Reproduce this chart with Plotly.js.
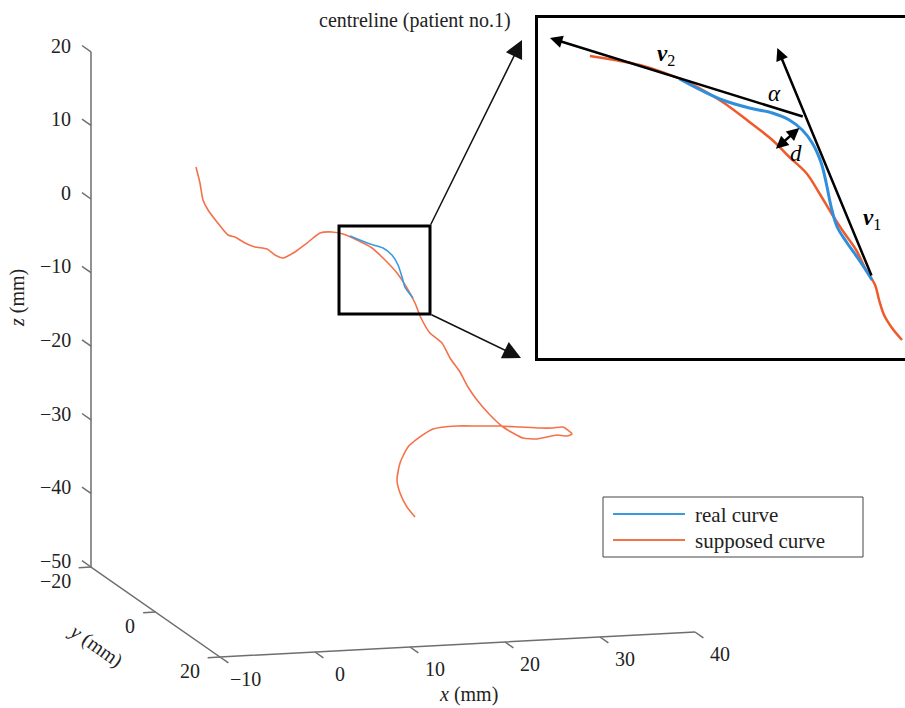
<!DOCTYPE html>
<html><head><meta charset="utf-8">
<script src="https://cdn.plot.ly/plotly-3.0.1.min.js"></script>
<style>html,body{margin:0;padding:0;background:#fff}#chart{width:905px;height:708px}</style>
</head><body><div id="chart"></div>
<script>
// ---- data (mm), centreline of patient no.1; depth y taken as the plane y = 0 ----
const supX = [-5.74,-5.32,-5.00,-4.47,-3.53,-2.37,-1.63,-0.58,0.47,1.74,2.58,3.42,4.68,5.95,7.32,8.58,9.74,11.21,12.79,14.16,15.42,16.47,17.32,17.95,18.89,20.16,21.00,22.05,22.89,23.84,25.21,26.58,27.63,28.68,30.16,31.21,32.26,33.32,33.84,32.89,31.84,30.47,28.37,26.26,24.16,21.74,19.21,17.84,16.58,15.74,15.42,15.74,16.47,17.32];
const supZ = [10.17,7.97,5.64,4.24,2.55,0.70,0.38,-0.50,-1.12,-1.48,-2.35,-2.81,-2.08,-0.95,0.32,0.37,0.02,-0.90,-2.09,-3.82,-5.67,-7.78,-9.87,-11.95,-14.06,-15.50,-17.60,-19.57,-21.66,-23.49,-25.63,-27.35,-28.24,-28.99,-29.22,-29.02,-28.82,-29.03,-28.79,-27.78,-27.84,-27.75,-27.47,-27.19,-27.05,-26.88,-27.12,-28.11,-29.39,-31.50,-33.79,-35.58,-37.53,-38.95];
const realX = [10.47,12.58,13.95,14.89,15.53,15.95,16.26,17.11];
const realZ = [-0.30,-1.53,-2.17,-3.19,-4.59,-6.25,-7.63,-9.18];
const planeY = 0;

const xTicks = [-10,0,10,20,30,40];
const yTicks = [-20,0,20];
const zTicks = [-50,-40,-30,-20,-10,0,10,20];
const xRange = [-10,40], yRange = [-20,20], zRange = [-50,20];

// ---- inset detail (local zoomed units) ----
const insSupU = [52,77,102,127,152,185,212,235,252,269,282,294,305,319,329,338,342,347,355,365];
const insSupV = [302,298,293,285,275,256,236,218,201,185,165,145,128,108,88,73,58,43,30,18];
const insRealU = [142,165,185,212,235,252,265,275,284,289,294,300,310,322,335];
const insRealV = [279,267,258,250,245,238,228,215,195,175,151,131,115,98,78];

const seriesNames = ['real curve','supposed curve'];
const BLUE = '#3a9ae0', ORANGE = '#f4724a';
const FONT = '"Liberation Serif", "Times New Roman", Times, serif';

// ---- orthographic projection of the 3-D box onto the page ----
function P(x,y,z){
  return [91 + (x+10)*9.5 + (y+20)*3.225,
          567 - (z+50)*7.36 - (x+10)*0.5 + (y+20)*2.25];
}
function proj(xs,zs){
  const X=[],Y=[];
  xs.forEach((x,i)=>{const p=P(x,planeY,zs[i]);X.push(p[0]);Y.push(p[1]);});
  return {X,Y};
}
const sup = proj(supX,supZ), real = proj(realX,realZ);

// axis lines
const A = [P(xRange[0],yRange[0],zRange[1]),P(xRange[0],yRange[0],zRange[0]),P(xRange[0],yRange[1],zRange[0]),P(xRange[1],yRange[1],zRange[0])];
// ticks
const tX=[],tY=[],ann=[];
function lab(v){return v<0?'\u2212'+Math.abs(v):String(v);}
zTicks.forEach(z=>{const a=P(-10,-20,z),b=P(-10,-22.8,z);tX.push(a[0],b[0],null);tY.push(a[1],b[1],null);
  ann.push({x:b[0]-9,y:b[1],text:lab(z),xanchor:'right',yanchor:'middle'});});
yTicks.forEach(y=>{const a=P(-10,y,-50),b=P(-11.3,y,-50);tX.push(a[0],b[0],null);tY.push(a[1],b[1],null);
  ann.push({x:b[0]-6,y:b[1]+13,text:lab(y),xanchor:'right',yanchor:'middle'});});
xTicks.forEach(x=>{const a=P(x,20,-50),b=P(x,22.6,-50);tX.push(a[0],b[0],null);tY.push(a[1],b[1],null);
  ann.push({x:b[0]+17,y:b[1]+16,text:lab(x),xanchor:'center',yanchor:'middle'});});
ann.forEach(a=>{a.xref='x';a.yref='y';a.showarrow=false;a.font={family:FONT,size:20,color:'#222'};});

// axis titles and chart title
ann.push({x:17,y:298,xref:'x',yref:'y',text:'<i>z</i> (mm)',textangle:-90,showarrow:false,font:{family:FONT,size:20,color:'#222'}});
ann.push({x:96,y:645,xref:'x',yref:'y',text:'<i>y</i> (mm)',textangle:35,showarrow:false,font:{family:FONT,size:20,color:'#222'}});
ann.push({x:468,y:694,xref:'x',yref:'y',text:'<i>x</i> (mm)',showarrow:false,font:{family:FONT,size:20,color:'#222'}});
ann.push({x:415,y:20,xref:'x',yref:'y',text:'centreline (patient no.1)',showarrow:false,font:{family:FONT,size:20,color:'#222'}});

// zoom box and pointer arrows
const box = {x0:339,x1:430,y0:226,y1:314};
ann.push({x:522,y:40,ax:box.x1,ay:box.y0,xref:'x',yref:'y',axref:'x',ayref:'y',text:'',showarrow:true,arrowhead:2,arrowsize:2.4,arrowwidth:1.5,arrowcolor:'#111'});
ann.push({x:521,y:358,ax:box.x1,ay:box.y1,xref:'x',yref:'y',axref:'x',ayref:'y',text:'',showarrow:true,arrowhead:2,arrowsize:2.4,arrowwidth:1.5,arrowcolor:'#111'});

// inset vectors
const iA = {xref:'x2',yref:'y2',axref:'x2',ayref:'y2',text:'',showarrow:true,arrowhead:2,arrowsize:1,arrowwidth:2.5,arrowcolor:'#000'};
ann.push(Object.assign({},iA,{x:12,y:320,ax:267,ay:241}));
ann.push(Object.assign({},iA,{x:240,y:310,ax:335,ay:81}));
ann.push(Object.assign({},iA,{x:262,y:230,ax:237,ay:208,arrowside:'end+start'}));
const iL = {xref:'x2',yref:'y2',showarrow:false,font:{family:FONT,size:23,color:'#000'}};
ann.push(Object.assign({},iL,{x:117,y:303,xanchor:'left',text:'<b><i>v</i></b><sub>2</sub>'}));
ann.push(Object.assign({},iL,{x:324,y:139,xanchor:'left',text:'<b><i>v</i></b><sub>1</sub>'}));
ann.push(Object.assign({},iL,{x:237,y:265,text:'<i>\u03b1</i>'}));
ann.push(Object.assign({},iL,{x:259,y:205,text:'<i>d</i>'}));

// legend (drawn)
const shapes = [
  {type:'rect',xref:'x',yref:'y',x0:box.x0,x1:box.x1,y0:box.y0,y1:box.y1,line:{color:'#000',width:3}},
  {type:'rect',xref:'x',yref:'y',x0:603,x1:863,y0:497,y1:557,line:{color:'#444',width:1}},
  {type:'line',xref:'x',yref:'y',x0:613,x1:685,y0:514,y1:514,line:{color:BLUE,width:2}},
  {type:'line',xref:'x',yref:'y',x0:613,x1:685,y0:540,y1:540,line:{color:ORANGE,width:2}}
];
ann.push({x:693,y:515,xref:'x',yref:'y',xanchor:'left',text:seriesNames[0],showarrow:false,font:{family:FONT,size:21,color:'#222'}});
ann.push({x:693,y:541,xref:'x',yref:'y',xanchor:'left',text:seriesNames[1],showarrow:false,font:{family:FONT,size:21,color:'#222'}});

const data = [
  {x:A.map(p=>p[0]),y:A.map(p=>p[1]),mode:'lines',line:{color:'#6e6e6e',width:1.5},hoverinfo:'skip'},
  {x:tX,y:tY,mode:'lines',line:{color:'#6e6e6e',width:1.5},hoverinfo:'skip'},
  {x:sup.X,y:sup.Y,mode:'lines',name:seriesNames[1],line:{color:ORANGE,width:1.6,shape:'spline',smoothing:0.6}},
  {x:real.X,y:real.Y,mode:'lines',name:seriesNames[0],line:{color:BLUE,width:1.6,shape:'spline',smoothing:0.6}},
  {x:insSupU,y:insSupV,xaxis:'x2',yaxis:'y2',mode:'lines',line:{color:'#f05a2a',width:2.5,shape:'spline'}},
  {x:insRealU,y:insRealV,xaxis:'x2',yaxis:'y2',mode:'lines',line:{color:'#2f8fdc',width:3,shape:'spline'}}
];

const layout = {
  width:905,height:708,margin:{l:0,r:0,t:0,b:0},showlegend:false,
  font:{family:FONT},
  paper_bgcolor:'#fff',plot_bgcolor:'rgba(0,0,0,0)',
  xaxis:{range:[0,905],domain:[0,1],visible:false},
  yaxis:{range:[708,0],domain:[0,1],visible:false},
  xaxis2:{range:[0,368],domain:[538/905,1],anchor:'y2',showline:true,mirror:true,linewidth:3,linecolor:'#000',showticklabels:false,ticks:'',showgrid:false,zeroline:false},
  yaxis2:{range:[0,340],domain:[1-358/708,1-18/708],anchor:'x2',showline:true,mirror:true,linewidth:3,linecolor:'#000',showticklabels:false,ticks:'',showgrid:false,zeroline:false},
  annotations:ann,shapes:shapes
};
Plotly.newPlot('chart',data,layout,{staticPlot:true});
</script></body></html>
